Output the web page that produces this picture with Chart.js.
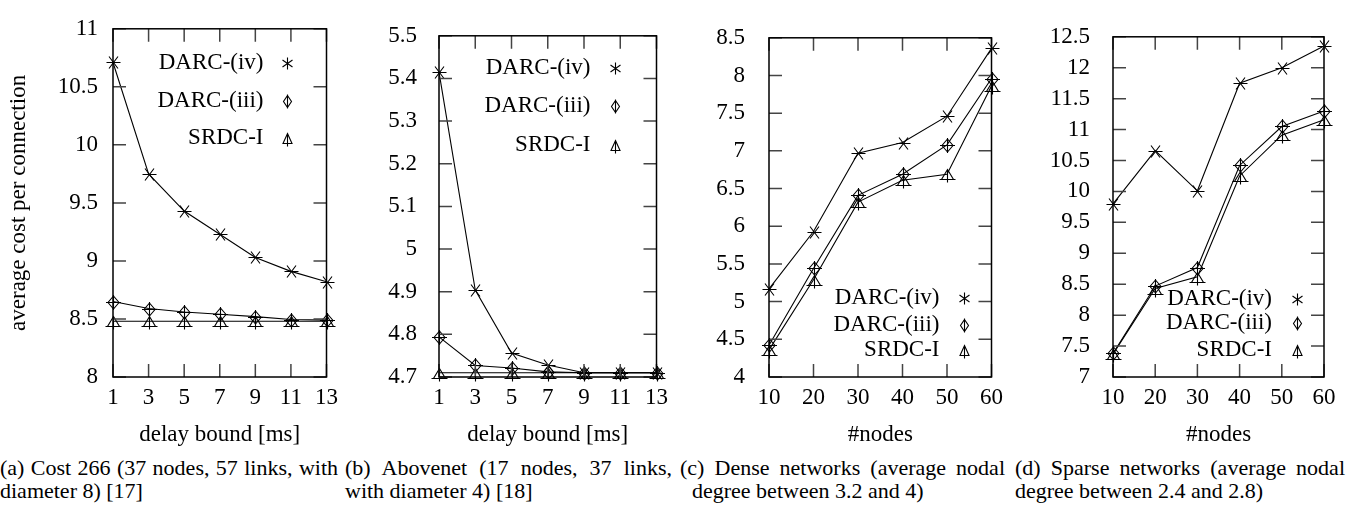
<!DOCTYPE html>
<html>
<head>
<meta charset="utf-8">
<script src="https://cdn.jsdelivr.net/npm/chart.js@4.4.1/dist/chart.umd.min.js"></script>
<style>
  body { margin: 0; background: #fff; }
  #page { position: relative; width: 1353px; height: 512px; overflow: hidden; font-family: 'Liberation Serif', 'Times New Roman', serif; color: #000; }
  .panel { position: absolute; top: 0; height: 452px; }
  .cap { position: absolute; top: 456px; font-size: 22px; line-height: 23px; }
  .cap .l1 { text-align: justify; text-align-last: justify; }
</style>
</head>
<body>
<div id="page">
  <div class="panel" style="left:0;width:345px"><canvas id="chartA"></canvas></div>
  <div class="panel" style="left:345px;width:330px"><canvas id="chartB"></canvas></div>
  <div class="panel" style="left:675px;width:335px"><canvas id="chartC"></canvas></div>
  <div class="panel" style="left:1010px;width:343px"><canvas id="chartD"></canvas></div>

  <div class="cap" style="left:0;width:338px"><div class="l1">(a) Cost 266 (37 nodes, 57 links, with</div><div>diameter 8) [17]</div></div>
  <div class="cap" style="left:345px;width:327px"><div class="l1">(b) Abovenet (17 nodes, 37 links,</div><div>with diameter 4) [18]</div></div>
  <div class="cap" style="left:680px;width:325px"><div class="l1">(c) Dense networks (average nodal</div><div style="padding-left:12px">degree between 3.2 and 4)</div></div>
  <div class="cap" style="left:1015px;width:330px"><div class="l1">(d) Sparse networks (average nodal</div><div>degree between 2.4 and 2.8)</div></div>
</div>

<script>
// ---- data ----
const seriesLabels = ['DARC-(iv)', 'DARC-(iii)', 'SRDC-I'];

const delayBounds = [1, 3, 5, 7, 9, 11, 13];
const nodeCounts = [10, 20, 30, 40, 50, 60];

// (a) Cost 266
const cost266Iv   = [10.71, 9.75, 9.43, 9.23, 9.03, 8.91, 8.82];
const cost266Iii  = [8.65, 8.59, 8.56, 8.54, 8.52, 8.495, 8.49];
const cost266Srdc = [8.48, 8.48, 8.48, 8.48, 8.48, 8.48, 8.48];

// (b) Abovenet
const aboveIv   = [5.415, 4.904, 4.756, 4.728, 4.71, 4.71, 4.71];
const aboveIii  = [4.794, 4.727, 4.721, 4.712, 4.71, 4.71, 4.71];
const aboveSrdc = [4.71, 4.71, 4.71, 4.71, 4.71, 4.71, 4.71];

// (c) dense networks
const denseIv   = [5.17, 5.93, 6.97, 7.11, 7.46, 8.36];
const denseIii  = [4.42, 5.44, 6.41, 6.69, 7.08, 7.96];
const denseSrdc = [4.36, 5.29, 6.32, 6.61, 6.69, 7.86];

// (d) sparse networks
const sparseIv   = [9.80, 10.66, 10.01, 11.75, 12.0, 12.35];
const sparseIii  = [7.38, 8.47, 8.77, 10.42, 11.05, 11.30];
const sparseSrdc = [7.37, 8.43, 8.62, 10.25, 10.91, 11.16];

// tick labels
const yTicksA = [8, 8.5, 9, 9.5, 10, 10.5, 11];
const yTicksB = [4.7, 4.8, 4.9, 5, 5.1, 5.2, 5.3, 5.4, 5.5];
const yTicksC = [4, 4.5, 5, 5.5, 6, 6.5, 7, 7.5, 8, 8.5];
const yTicksD = [7, 7.5, 8, 8.5, 9, 9.5, 10, 10.5, 11, 11.5, 12, 12.5];

const FONT = "'Liberation Serif', 'Times New Roman', serif";
const kinds = ['star', 'diamond', 'triangle'];

// gnuplot-like point glyphs, drawn straight on the chart canvas
function glyph(ctx, kind, x, y, legend){
  ctx.save();
  ctx.translate(Math.round(x) + 0.5, Math.round(y) + 0.5);
  ctx.strokeStyle = '#000';
  ctx.lineWidth = 1.1;
  ctx.beginPath();
  if (kind === 'star') {
    if (legend) {
      ctx.moveTo(0, -6); ctx.lineTo(0, 6);
      ctx.moveTo(-5, -3.5); ctx.lineTo(5, 3.5);
      ctx.moveTo(-5, 3.5); ctx.lineTo(5, -3.5);
    } else {
      ctx.moveTo(-7, 0); ctx.lineTo(7, 0);
      ctx.moveTo(-4.5, -6); ctx.lineTo(4.5, 6);
      ctx.moveTo(-4.5, 6); ctx.lineTo(4.5, -6);
    }
  } else if (kind === 'diamond') {
    const w = legend ? 4 : 5.5, h = legend ? 6 : 6.5;
    ctx.moveTo(0, -h); ctx.lineTo(w, 0); ctx.lineTo(0, h); ctx.lineTo(-w, 0); ctx.closePath();
    ctx.moveTo(0, -h - 1); ctx.lineTo(0, h + 1);
    if (!legend) { ctx.moveTo(-w - 2, 0); ctx.lineTo(w + 2, 0); }
  } else {
    const w = legend ? 4.5 : 6, h = 5;
    ctx.moveTo(0, -h); ctx.lineTo(w, h); ctx.lineTo(-w, h); ctx.closePath();
    ctx.moveTo(0, -h); ctx.lineTo(0, h + 3);
    if (!legend) { ctx.moveTo(-w - 2, h); ctx.lineTo(w + 2, h); }
  }
  ctx.stroke();
  ctx.restore();
}

// ---- plugins: point glyphs, gnuplot style frame with inward ticks, key ----
const glyphPlugin = {
  id: 'glyphs',
  afterDatasetsDraw(chart){
    chart.data.datasets.forEach((ds, i) => {
      chart.getDatasetMeta(i).data.forEach(pt => glyph(chart.ctx, kinds[i], pt.x, pt.y, false));
    });
  }
};

const framePlugin = {
  id: 'frame',
  afterDatasetsDraw(chart){
    const {ctx, chartArea: a, scales: {x, y}} = chart;
    ctx.save();
    ctx.strokeStyle = '#444';
    ctx.lineWidth = 1.5;
    ctx.beginPath();
    x.ticks.forEach(t => {
      const px = x.getPixelForValue(t.value);
      ctx.moveTo(px, a.bottom); ctx.lineTo(px, a.bottom - 13);
      ctx.moveTo(px, a.top); ctx.lineTo(px, a.top + 13);
    });
    y.ticks.forEach(t => {
      const py = y.getPixelForValue(t.value);
      ctx.moveTo(a.left, py); ctx.lineTo(a.left + 13, py);
      ctx.moveTo(a.right, py); ctx.lineTo(a.right - 13, py);
    });
    ctx.stroke();
    ctx.strokeStyle = '#000';
    ctx.strokeRect(a.left, a.top, a.right - a.left, a.bottom - a.top);
    ctx.restore();
  }
};

const keyPlugin = {
  id: 'key',
  afterDraw(chart, args, opts){
    const {ctx, chartArea: a} = chart;
    ctx.save();
    ctx.font = '23px ' + FONT;
    ctx.fillStyle = '#000';
    ctx.textAlign = 'right';
    ctx.textBaseline = 'middle';
    chart.data.datasets.forEach((ds, i) => {
      const yy = opts.anchor === 'top' ? a.top + opts.rows[i] : a.bottom - opts.rows[i];
      ctx.fillText(ds.label, a.right - opts.textDx, yy);
      glyph(ctx, kinds[i], a.right - opts.markDx, yy, true);
    });
    ctx.restore();
  }
};

function pairs(xs, ys){ return xs.map((v, i) => ({x: v, y: ys[i]})); }

function makeChart(id, xs, series, xTicks, yTicks, o){
  const datasets = series.map((ys, i) => ({
    label: seriesLabels[i],
    data: pairs(xs, ys),
    borderColor: '#000',
    borderWidth: 1.1,
    pointRadius: 0,
    pointHoverRadius: 0,
    tension: 0,
    clip: false
  }));
  return new Chart(document.getElementById(id), {
    type: 'line',
    data: {datasets},
    options: {
      responsive: true,
      maintainAspectRatio: false,
      animation: false,
      events: [],
      layout: {padding: {top: 13, right: o.right, left: 0, bottom: 0}},
      plugins: {
        legend: {display: false},
        tooltip: {enabled: false},
        key: o.key
      },
      scales: {
        x: {
          type: 'linear',
          min: xTicks[0],
          max: xTicks[xTicks.length - 1],
          afterBuildTicks: s => { s.ticks = xTicks.map(v => ({value: v})); },
          afterFit: s => { s.height = 75; },
          grid: {display: false, drawTicks: false},
          border: {display: false},
          ticks: {font: {family: FONT, size: 23}, color: '#000', padding: 7, maxRotation: 0,
                  callback: v => String(v)},
          title: {display: true, text: o.xTitle, color: '#000',
                  font: {family: FONT, size: 23}, padding: {top: 0, bottom: 3}}
        },
        y: {
          type: 'linear',
          min: yTicks[0],
          max: yTicks[yTicks.length - 1],
          afterBuildTicks: s => { s.ticks = yTicks.map(v => ({value: v})); },
          afterFit: s => { s.width = o.yWidth; },
          grid: {display: false, drawTicks: false},
          border: {display: false},
          ticks: {font: {family: FONT, size: 23}, color: '#000', padding: o.yPad,
                  callback: v => String(Math.round(v * 10) / 10)},
          title: {display: !!o.yTitle, text: o.yTitle || '', color: '#000',
                  font: {family: FONT, size: 23}, padding: {top: 5, bottom: 0}}
        }
      }
    },
    plugins: [glyphPlugin, framePlugin, keyPlugin]
  });
}

function drawAll(){
  makeChart('chartA', delayBounds, [cost266Iv, cost266Iii, cost266Srdc], delayBounds, yTicksA, {
    right: 12, yWidth: 113, yPad: 15, xTitle: 'delay bound [ms]', yTitle: 'average cost per connection',
    key: {anchor: 'top', textDx: 63, markDx: 40, rows: [34, 72, 109]}
  });
  makeChart('chartB', delayBounds, [aboveIv, aboveIii, aboveSrdc], delayBounds, yTicksB, {
    right: 11, yWidth: 94, yPad: 22, xTitle: 'delay bound [ms]',
    key: {anchor: 'top', textDx: 66, markDx: 42, rows: [32, 70, 109]}
  });
  makeChart('chartC', nodeCounts, [denseIv, denseIii, denseSrdc], nodeCounts, yTicksC, {
    right: 16, yWidth: 94, yPad: 24, xTitle: '#nodes',
    key: {anchor: 'bottom', textDx: 52, markDx: 28, rows: [79, 52, 27]}
  });
  makeChart('chartD', nodeCounts, [sparseIv, sparseIii, sparseSrdc], nodeCounts, yTicksD, {
    right: 29, yWidth: 103, yPad: 23, xTitle: '#nodes',
    key: {anchor: 'bottom', textDx: 52, markDx: 27, rows: [78, 54, 27]}
  });
}

// wait for the serif face so the canvas text does not fall back to sans
document.fonts.load("23px 'Liberation Serif'").then(drawAll, drawAll);
</script>
</body>
</html>
